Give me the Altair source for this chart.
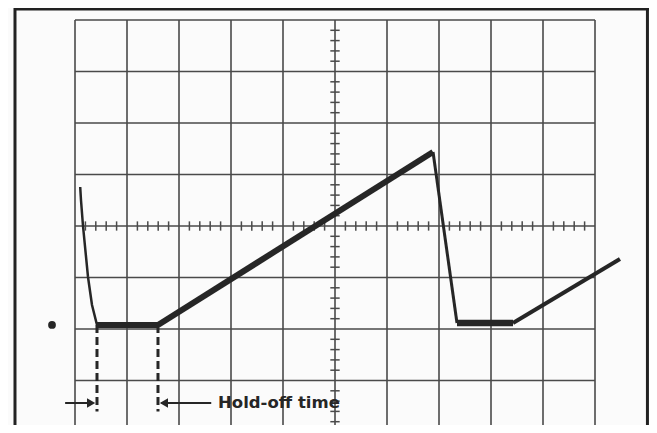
import altair as alt
import pandas as pd

# Graticule: 10 x 8 divisions, centre at (5, 0)
grid_x = list(range(0, 11))
grid_y = list(range(-4, 5))

# Trace points (in divisions)
seg_names = ["start", "start", "start", "start", "start", "start",
             "hold1", "hold1",
             "ramp1", "ramp1",
             "fall", "fall",
             "hold2", "hold2",
             "ramp2", "ramp2"]
seg_x = [0.10, 0.115, 0.154, 0.25, 0.327, 0.423,
         0.423, 1.596,
         1.596, 6.885,
         6.885, 7.346,
         7.346, 8.423,
         8.423, 10.48]
seg_y = [0.757, 0.505, 0.0, -0.99, -1.534, -1.922,
         -1.922, -1.922,
         -1.922, 1.437,
         1.437, -1.883,
         -1.883, -1.883,
         -1.883, -0.64]
seg_w = [2.5, 2.5, 2.5, 2.5, 2.5, 2.5,
         6, 6,
         6, 6,
         3, 3,
         6.5, 6.5,
         4, 4]

dash_x = [0.423, 1.596]
dash_top = -1.922
dash_bottom = -3.6
arrow_y = -3.437
label_text = "Hold-off  time"

W, H = 641, 417
XD = [-67 / 52, (W - 67) / 52]
YD = [(218 - H) / 51.5, 218 / 51.5]
xs = alt.Scale(domain=XD, nice=False, zero=False)
ys = alt.Scale(domain=YD, nice=False, zero=False)
X = lambda f: alt.X(f, scale=xs, axis=None)
Y = lambda f: alt.Y(f, scale=ys, axis=None)
GRID = "#4a4a4a"
INK = "#262626"

vlines = pd.DataFrame({"x": grid_x, "y": -4, "y2": 4})
hlines = pd.DataFrame({"y": grid_y, "x": 0, "x2": 10})
vgrid = alt.Chart(vlines).mark_rule(color=GRID, strokeWidth=1.6).encode(
    x=X("x:Q"), y=Y("y:Q"), y2="y2:Q")
hgrid = alt.Chart(hlines).mark_rule(color=GRID, strokeWidth=1.6).encode(
    y=Y("y:Q"), x=X("x:Q"), x2="x2:Q")

minor_x = [i * 0.2 for i in range(0, 51) if i % 5 != 0]
minor_y = [-4 + i * 0.2 for i in range(0, 41) if i % 5 != 0]
mx = pd.DataFrame({"x": minor_x, "y": -0.09, "y2": 0.09})
my = pd.DataFrame({"y": minor_y, "x": 4.91, "x2": 5.09})
mxt = alt.Chart(mx).mark_rule(color=GRID, strokeWidth=1.5).encode(
    x=X("x:Q"), y=Y("y:Q"), y2="y2:Q")
myt = alt.Chart(my).mark_rule(color=GRID, strokeWidth=1.5).encode(
    y=Y("y:Q"), x=X("x:Q"), x2="x2:Q")

trace_df = pd.DataFrame({"seg": seg_names, "x": seg_x, "y": seg_y, "w": seg_w,
                         "o": list(range(len(seg_x)))})
trace = alt.Chart(trace_df).mark_line(color=INK, strokeJoin="round", strokeCap="butt").encode(
    x=X("x:Q"), y=Y("y:Q"), detail="seg:N", order="o:Q",
    strokeWidth=alt.StrokeWidth("w:Q", scale=None))

dash_df = pd.DataFrame({"x": dash_x, "y": dash_top, "y2": dash_bottom})
dashes = alt.Chart(dash_df).mark_rule(color=INK, strokeWidth=3, strokeDash=[8, 4]).encode(
    x=X("x:Q"), y=Y("y:Q"), y2="y2:Q")

arrow_df = pd.DataFrame({"x": [-0.19, 1.66], "x2": [0.3, 2.62], "y": [arrow_y, arrow_y]})
arrows = alt.Chart(arrow_df).mark_rule(color=INK, strokeWidth=2).encode(
    x=X("x:Q"), x2="x2:Q", y=Y("y:Q"))
head_df = pd.DataFrame({"x": [0.31, 1.71], "y": [arrow_y, arrow_y],
                        "s": ["triangle-right", "triangle-left"]})
heads = alt.Chart(head_df).mark_point(filled=True, color=INK, opacity=1, size=90).encode(
    x=X("x:Q"), y=Y("y:Q"), shape=alt.Shape("s:N", scale=None))

label_df = pd.DataFrame({"x": [2.75], "y": [arrow_y], "t": [label_text]})
label = alt.Chart(label_df).mark_text(align="left", baseline="middle", font="DejaVu Sans",
                                      fontWeight="bold", fontSize=16.5, color=INK).encode(
    x=X("x:Q"), y=Y("y:Q"), text="t:N")

dot_df = pd.DataFrame({"x": [-0.442], "y": [-1.922]})
dot = alt.Chart(dot_df).mark_point(filled=True, color=INK, opacity=1, size=60, shape="circle").encode(
    x=X("x:Q"), y=Y("y:Q"))

frame_v = pd.DataFrame({"x": [-1.154, XD[1] - 0.03], "y": YD[0], "y2": YD[1]})
frame_h = pd.DataFrame({"y": [YD[1] - 0.02], "x": -1.154, "x2": XD[1]})
fv = alt.Chart(frame_v).mark_rule(color="#222222", strokeWidth=3).encode(
    x=X("x:Q"), y=Y("y:Q"), y2="y2:Q")
fh = alt.Chart(frame_h).mark_rule(color="#222222", strokeWidth=3).encode(
    y=Y("y:Q"), x=X("x:Q"), x2="x2:Q")

chart = alt.layer(vgrid, hgrid, mxt, myt, dashes, arrows, heads, label, dot, trace, fv, fh).properties(
    width=W, height=H, padding=0, autosize=alt.AutoSizeParams(type="none"),
    background="#fbfbfb"
).configure_view(stroke=None)

chart.save("out.html", embed_options={"renderer": "svg", "actions": False})
